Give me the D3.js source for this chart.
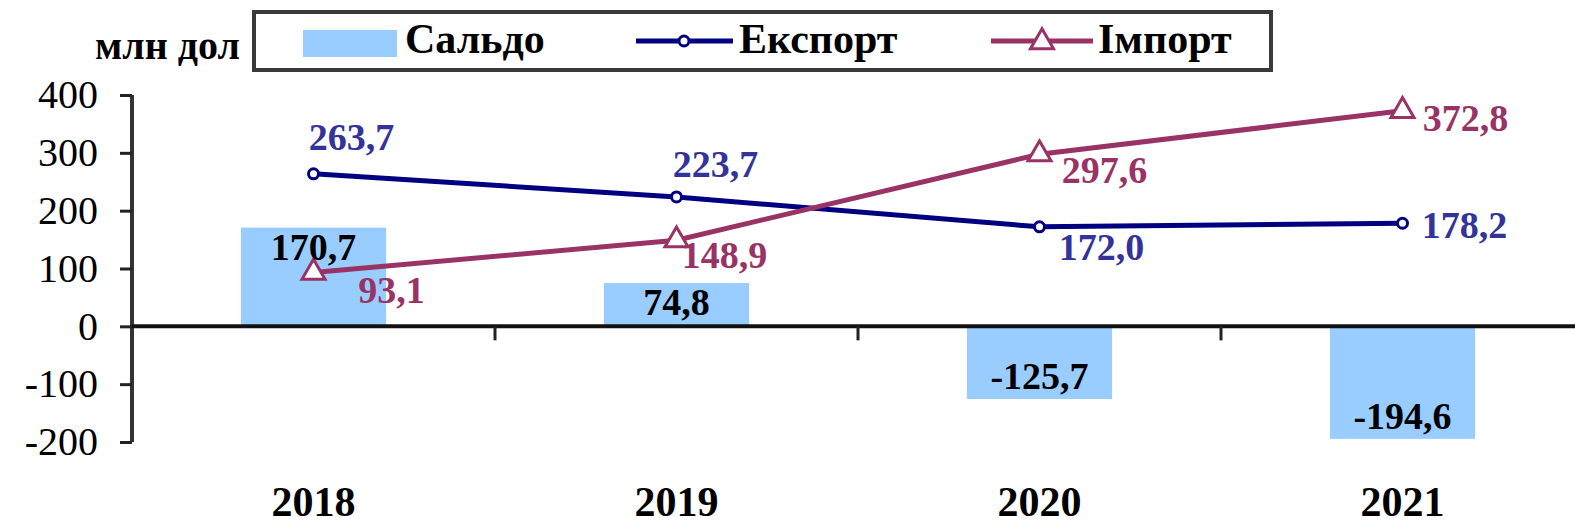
<!DOCTYPE html>
<html>
<head>
<meta charset="utf-8">
<script src="https://cdn.jsdelivr.net/npm/d3@7"></script>
<style>
  body { margin: 0; background: #fff; }
  svg { display: block; font-family: "Liberation Serif", "Times New Roman", serif; }
</style>
</head>
<body>
<div id="chart"></div>
<script>
// data
const years = ["2018", "2019", "2020", "2021"]
const saldo = [170.7, 74.8, -125.7, -194.6]
const exportVals = [263.7, 223.7, 172.0, 178.2]
const importVals = [93.1, 148.9, 297.6, 372.8]
const yTicks = [-200, -100, 0, 100, 200, 300, 400]

const ua = d3.formatLocale({decimal: ",", thousands: " ", grouping: [3], currency: ["", ""], minus: "-"})
const fmt = ua.format(".1f")

const width = 1575
const height = 526

// label placement relative to the point (dx, dy of the text centre)
const exportLabelShift = [[38, -37], [39, -33], [62, 20], [62, 2]]
const importLabelShift = [[78, 18], [48, 15], [65, 16], [63, 7]]

const svg = d3.select("#chart")
  .append("svg")
  .attr("width", width)
  .attr("height", height)

const x = d3.scaleBand()
  .domain(years)
  .range([132, 1584])

const y = d3.scaleLinear()
  .domain([-200, 400])
  .range([442, 95])

const cx = d => x(d) + x.bandwidth() / 2

// bars (Сальдо)
const barW = x.bandwidth() * 0.4
svg.append("g")
  .selectAll("rect")
  .data(years)
  .join("rect")
    .attr("x", d => cx(d) - barW / 2)
    .attr("width", barW)
    .attr("y", (d, i) => Math.min(y(saldo[i]), y(0)))
    .attr("height", (d, i) => Math.abs(y(saldo[i]) - y(0)))
    .attr("fill", "#99CCFF")

// y axis
const yAxis = svg.append("g")
  .attr("transform", "translate(132,0)")
  .call(d3.axisLeft(y).tickValues(yTicks).tickFormat(ua.format("d")).tickSize(12).tickPadding(22))
yAxis.select(".domain").attr("stroke", "#333").attr("stroke-width", 4)
  .attr("d", `M0,${y(400)}V${y(-200)}`)
yAxis.selectAll(".tick line").attr("stroke", "#222").attr("stroke-width", 3)
yAxis.selectAll(".tick text")
  .attr("font-size", 40)
  .attr("font-family", "Liberation Serif")
  .attr("fill", "#000")

// x axis line at zero
svg.append("line")
  .attr("x1", 132).attr("x2", width)
  .attr("y1", y(0)).attr("y2", y(0))
  .attr("stroke", "#111")
  .attr("stroke-width", 4)

// category separators
svg.append("g")
  .selectAll("line")
  .data(years.slice(1))
  .join("line")
    .attr("x1", d => x(d)).attr("x2", d => x(d))
    .attr("y1", y(0)).attr("y2", y(0) + 14)
    .attr("stroke", "#222")
    .attr("stroke-width", 3)

// year labels
svg.append("g")
  .selectAll("text")
  .data(years)
  .join("text")
    .attr("x", d => cx(d))
    .attr("y", 516)
    .attr("text-anchor", "middle")
    .attr("font-size", 42)
    .attr("font-weight", "bold")
    .text(d => d)

// lines
const exportColor = "#000080"
const importColor = "#993366"

const line = d3.line().x(d => cx(d[0])).y(d => y(d[1]))

svg.append("path")
  .datum(years.map((d, i) => [d, exportVals[i]]))
  .attr("d", line)
  .attr("fill", "none")
  .attr("stroke", exportColor)
  .attr("stroke-width", 5)

svg.append("path")
  .datum(years.map((d, i) => [d, importVals[i]]))
  .attr("d", line)
  .attr("fill", "none")
  .attr("stroke", importColor)
  .attr("stroke-width", 5)

// markers
svg.append("g")
  .selectAll("circle")
  .data(years)
  .join("circle")
    .attr("cx", d => cx(d))
    .attr("cy", (d, i) => y(exportVals[i]))
    .attr("r", 5)
    .attr("fill", "#fff")
    .attr("stroke", exportColor)
    .attr("stroke-width", 3)

const tri = d3.symbol().type(d3.symbolTriangle).size(230)
svg.append("g")
  .selectAll("path")
  .data(years)
  .join("path")
    .attr("d", tri)
    .attr("transform", (d, i) => `translate(${cx(d)},${y(importVals[i])})`)
    .attr("fill", "#fff")
    .attr("stroke", importColor)
    .attr("stroke-width", 3)

// data labels
const labels = svg.append("g")
  .attr("font-size", 38)
  .attr("font-weight", "bold")
  .attr("text-anchor", "middle")
  .attr("dominant-baseline", "central")

labels.selectAll(".lab-saldo")
  .data(years)
  .join("text")
    .attr("class", "lab-saldo")
    .attr("x", d => cx(d))
    .attr("y", (d, i) => saldo[i] > 0 ? y(saldo[i]) + 19 : y(saldo[i]) - 23)
    .attr("fill", "#000")
    .text((d, i) => fmt(saldo[i]))

labels.selectAll(".lab-exp")
  .data(years)
  .join("text")
    .attr("class", "lab-exp")
    .attr("x", (d, i) => cx(d) + exportLabelShift[i][0])
    .attr("y", (d, i) => y(exportVals[i]) + exportLabelShift[i][1])
    .attr("fill", "#333399")
    .text((d, i) => fmt(exportVals[i]))

labels.selectAll(".lab-imp")
  .data(years)
  .join("text")
    .attr("class", "lab-imp")
    .attr("x", (d, i) => cx(d) + importLabelShift[i][0])
    .attr("y", (d, i) => y(importVals[i]) + importLabelShift[i][1])
    .attr("fill", importColor)
    .text((d, i) => fmt(importVals[i]))

// unit label
svg.append("text")
  .attr("x", 240)
  .attr("y", 59)
  .attr("text-anchor", "end")
  .attr("font-size", 40)
  .attr("font-weight", "bold")
  .text("млн дол")

// legend
const legend = svg.append("g")
legend.append("rect")
  .attr("x", 254).attr("y", 12)
  .attr("width", 1017).attr("height", 58)
  .attr("fill", "#fff")
  .attr("stroke", "#3a3a3a")
  .attr("stroke-width", 4)

legend.append("rect")
  .attr("x", 303).attr("y", 30)
  .attr("width", 94).attr("height", 27)
  .attr("fill", "#99CCFF")
legend.append("text")
  .attr("x", 405).attr("y", 53)
  .attr("font-size", 42).attr("font-weight", "bold")
  .text("Сальдо")

legend.append("line")
  .attr("x1", 636).attr("x2", 733)
  .attr("y1", 41).attr("y2", 41)
  .attr("stroke", exportColor).attr("stroke-width", 5)
legend.append("circle")
  .attr("cx", 684).attr("cy", 41).attr("r", 5)
  .attr("fill", "#fff").attr("stroke", exportColor).attr("stroke-width", 3)
legend.append("text")
  .attr("x", 739).attr("y", 53)
  .attr("font-size", 42).attr("font-weight", "bold")
  .text("Експорт")

legend.append("line")
  .attr("x1", 991).attr("x2", 1093)
  .attr("y1", 41).attr("y2", 41)
  .attr("stroke", importColor).attr("stroke-width", 5)
legend.append("path")
  .attr("d", tri)
  .attr("transform", "translate(1042,42)")
  .attr("fill", "#fff").attr("stroke", importColor).attr("stroke-width", 3)
legend.append("text")
  .attr("x", 1098).attr("y", 53)
  .attr("font-size", 42).attr("font-weight", "bold")
  .text("Імпорт")
</script>
</body>
</html>
